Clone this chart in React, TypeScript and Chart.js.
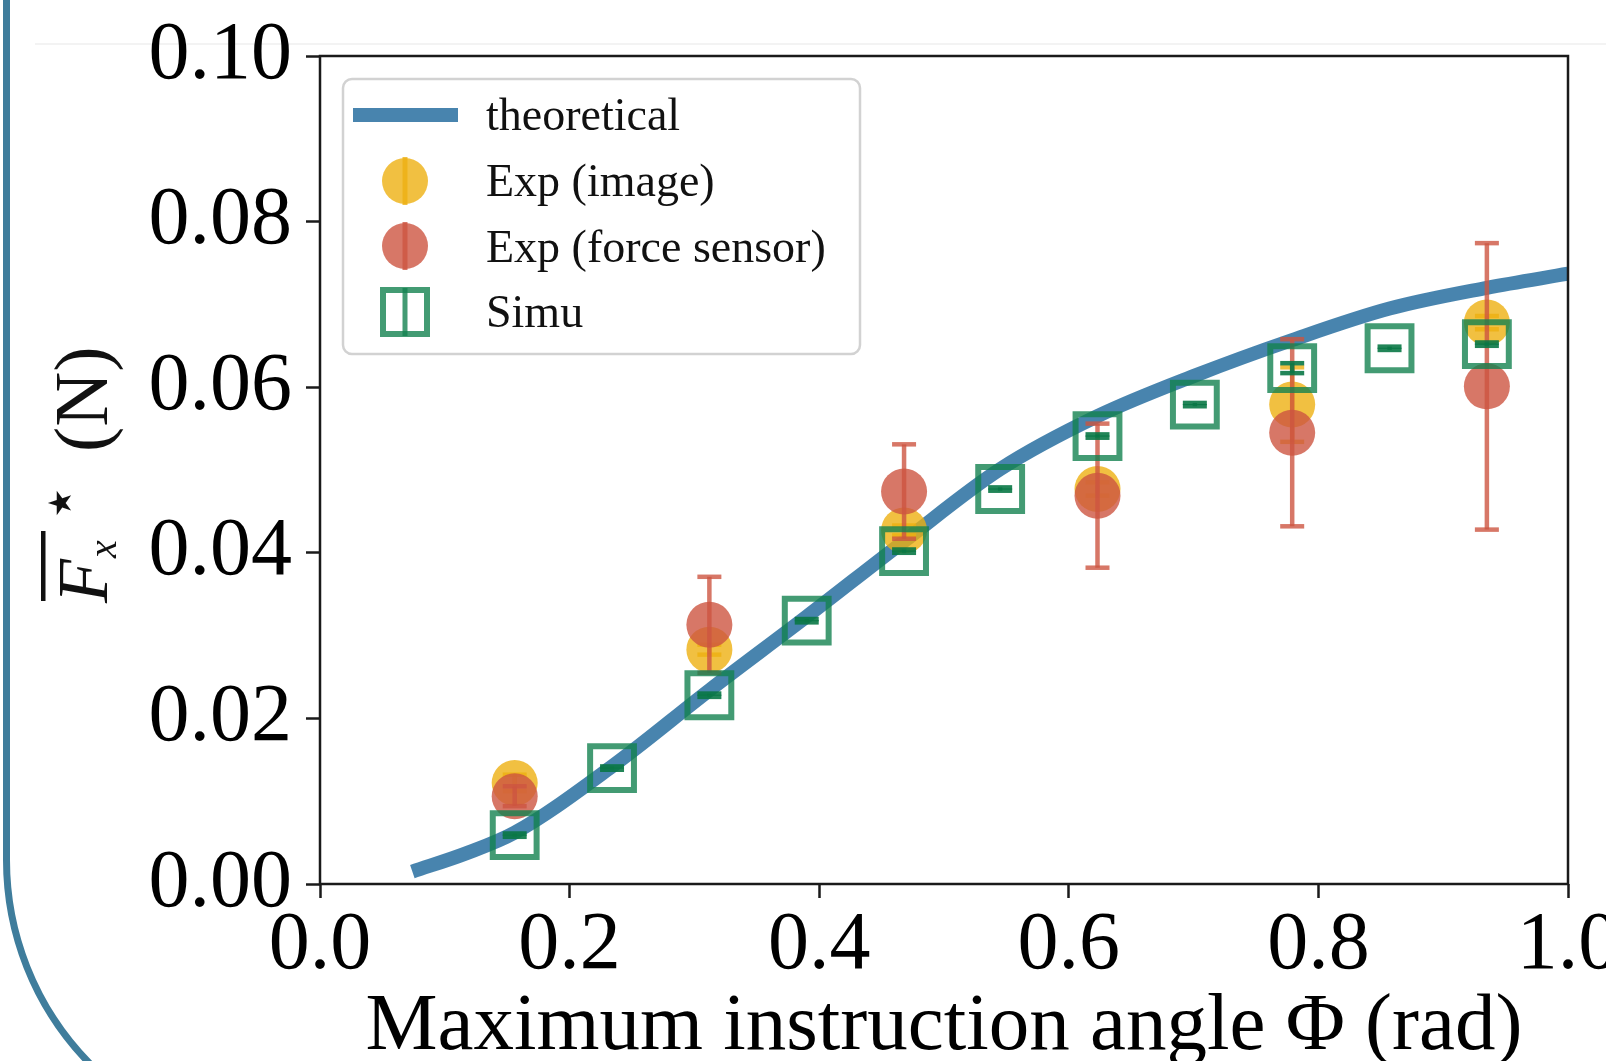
import React, { useEffect, useRef } from "react";
import { Chart, registerables } from "chart.js";

Chart.register(...registerables);

// ---------- data ----------
const THEORY_PHI = [0.074, 0.117, 0.156, 0.234, 0.312, 0.39, 0.468, 0.545, 0.623, 0.701, 0.779, 0.857, 0.935, 1.0];
const THEORY_F = [0.0015, 0.0037, 0.0062, 0.0142, 0.0234, 0.0323, 0.0414, 0.0501, 0.0565, 0.0614, 0.0657, 0.0695, 0.072, 0.0737];

const EXP_PHI = [0.156, 0.312, 0.468, 0.623, 0.779, 0.935];
const EXP_IMAGE_F = [0.0122, 0.0283, 0.0427, 0.0477, 0.0579, 0.0678];
const EXP_IMAGE_ERR = [0.001, 0.0006, 0.0006, 0.0008, 0.0045, 0.0008];
const EXP_FORCE_F = [0.0106, 0.0313, 0.0474, 0.0469, 0.0545, 0.0601];
const EXP_FORCE_ERR = [0.0012, 0.0058, 0.0057, 0.0087, 0.0113, 0.0173];

const SIMU_PHI = [0.156, 0.234, 0.312, 0.39, 0.468, 0.545, 0.623, 0.701, 0.779, 0.857, 0.935];
const SIMU_F = [0.0059, 0.014, 0.0228, 0.0318, 0.0402, 0.0477, 0.0541, 0.0579, 0.0623, 0.0647, 0.0652];
const SIMU_ERR = [0.0002, 0.0002, 0.0002, 0.0002, 0.0002, 0.0002, 0.0002, 0.0002, 0.0006, 0.0002, 0.0002];

const X_TICKS_STEP = 0.2;
const Y_TICKS_STEP = 0.02;
const LEGEND_LABELS = ["theoretical", "Exp (image)", "Exp (force sensor)", "Simu"];
const X_TITLE = "Maximum instruction angle \u03A6 (rad)";

// ---------- style ----------
const BLUE = "rgba(40,110,160,0.85)";
const YELLOW = "rgba(237,176,18,0.8)";
const RED = "rgba(205,85,65,0.8)";
const GREEN = "rgba(20,130,80,0.8)";
const SERIF = '"Liberation Serif", "Times New Roman", serif';

const W = 1700;
const H = 1100;
const AREA = { left: 320, top: 56, right: 1568, bottom: 884 };

const pts = (xs: number[], ys: number[]) => xs.map((x, i) => ({ x, y: ys[i] }));

const errorBarPlugin = {
  id: "errbars",
  beforeDatasetDraw(chart: any, args: any) {
    const ds = chart.data.datasets[args.index];
    if (!ds.errors) return;
    const { ctx } = chart;
    const x = chart.scales.x;
    const y = chart.scales.y;
    ctx.save();
    ctx.strokeStyle = ds.errColor;
    ctx.lineWidth = 4.5;
    ctx.lineCap = "butt";
    ds.data.forEach((p: any, i: number) => {
      const e = ds.errors[i];
      const px = x.getPixelForValue(p.x);
      const top = y.getPixelForValue(p.y + e);
      const bot = y.getPixelForValue(p.y - e);
      ctx.beginPath();
      ctx.moveTo(px, top);
      ctx.lineTo(px, bot);
      ctx.stroke();
      const cw = 12;
      ctx.beginPath();
      ctx.moveTo(px - cw, top);
      ctx.lineTo(px + cw, top);
      ctx.stroke();
      ctx.beginPath();
      ctx.moveTo(px - cw, bot);
      ctx.lineTo(px + cw, bot);
      ctx.stroke();
    });
    ctx.restore();
  },
};

const framePlugin = {
  id: "frameAndLegend",
  afterDatasetsDraw(chart: any) {
    const { ctx, chartArea: a } = chart;
    ctx.save();
    // spines
    ctx.strokeStyle = "#1a1a1a";
    ctx.lineWidth = 2.5;
    ctx.strokeRect(a.left, a.top, a.right - a.left, a.bottom - a.top);

    // legend box
    const bx = 343, by = 79, bw = 517, bh = 275;
    ctx.beginPath();
    ctx.roundRect(bx, by, bw, bh, 9);
    ctx.fillStyle = "rgba(255,255,255,0.8)";
    ctx.fill();
    ctx.strokeStyle = "#d2d2d2";
    ctx.lineWidth = 2.5;
    ctx.stroke();

    const hx = 405;
    const rows = [115, 181, 246, 312];
    // line handle
    ctx.strokeStyle = BLUE;
    ctx.lineWidth = 14;
    ctx.lineCap = "butt";
    ctx.beginPath();
    ctx.moveTo(353, rows[0]);
    ctx.lineTo(458, rows[0]);
    ctx.stroke();
    // circle handles
    [[YELLOW, rows[1]], [RED, rows[2]]].forEach(([c, yy]: any) => {
      ctx.strokeStyle = c;
      ctx.lineWidth = 5;
      ctx.beginPath();
      ctx.moveTo(hx, yy - 24);
      ctx.lineTo(hx, yy + 24);
      ctx.stroke();
      ctx.fillStyle = c;
      ctx.beginPath();
      ctx.arc(hx, yy, 23, 0, Math.PI * 2);
      ctx.fill();
    });
    // square handle
    ctx.strokeStyle = GREEN;
    ctx.lineWidth = 5;
    ctx.beginPath();
    ctx.moveTo(hx, rows[3] - 24);
    ctx.lineTo(hx, rows[3] + 24);
    ctx.stroke();
    ctx.lineWidth = 6;
    ctx.strokeRect(hx - 22, rows[3] - 22, 44, 44);

    // legend text
    ctx.fillStyle = "#111";
    ctx.font = `46px ${SERIF}`;
    ctx.textAlign = "left";
    ctx.textBaseline = "alphabetic";
    const baselines = [130, 196, 262, 327];
    LEGEND_LABELS.forEach((t, i) => ctx.fillText(t, 486, baselines[i]));
    ctx.restore();
  },
  afterDraw(chart: any) {
    const ctx = chart.ctx;
    ctx.save();
    ctx.translate(107, 604);
    ctx.rotate(-Math.PI / 2);
    ctx.fillStyle = "#111";
    ctx.textAlign = "left";
    ctx.textBaseline = "alphabetic";
    ctx.font = `italic 72px ${SERIF}`;
    ctx.fillText("F", 1, 0);
    ctx.font = `italic 40px ${SERIF}`;
    ctx.fillText("x", 46, 9);
    ctx.fillRect(3, -66, 70, 4.5);
    ctx.font = '32px "DejaVu Sans"';
    ctx.textAlign = "center";
    ctx.textBaseline = "middle";
    ctx.fillText("\u2605", 101, -44);
    ctx.textAlign = "left";
    ctx.textBaseline = "alphabetic";
    ctx.font = `76px ${SERIF}`;
    ctx.fillText("(N)", 152, 0);
    ctx.restore();
  },
};

export default function App() {
  const ref = useRef<HTMLCanvasElement | null>(null);

  useEffect(() => {
    if (!ref.current) return;
    const chart = new Chart(ref.current, {
      type: "scatter",
      data: {
        datasets: [
          {
            label: LEGEND_LABELS[0],
            data: pts(THEORY_PHI, THEORY_F),
            showLine: true,
            borderColor: BLUE,
            borderWidth: 14,
            pointRadius: 0,
            cubicInterpolationMode: "monotone",
            order: 4,
          } as any,
          {
            label: LEGEND_LABELS[1],
            data: pts(EXP_PHI, EXP_IMAGE_F),
            backgroundColor: YELLOW,
            borderWidth: 0,
            pointRadius: 23,
            errors: EXP_IMAGE_ERR,
            errColor: YELLOW,
            order: 3,
          } as any,
          {
            label: LEGEND_LABELS[2],
            data: pts(EXP_PHI, EXP_FORCE_F),
            backgroundColor: RED,
            borderWidth: 0,
            pointRadius: 23,
            errors: EXP_FORCE_ERR,
            errColor: RED,
            order: 2,
          } as any,
          {
            label: LEGEND_LABELS[3],
            data: pts(SIMU_PHI, SIMU_F),
            backgroundColor: "rgba(0,0,0,0)",
            borderColor: GREEN,
            borderWidth: 6,
            pointStyle: "rect",
            pointRadius: 31,
            errors: SIMU_ERR,
            errColor: "rgba(10,120,70,0.9)",
            order: 1,
          } as any,
        ],
      },
      options: {
        responsive: false,
        maintainAspectRatio: false,
        animation: false,
        devicePixelRatio: 1,
        events: [],
        layout: {
          padding: { left: 0, top: AREA.top, right: W - AREA.right, bottom: 0 },
        },
        plugins: {
          legend: { display: false },
          tooltip: { enabled: false },
          title: { display: false },
        },
        scales: {
          x: {
            type: "linear",
            min: 0,
            max: 1,
            border: { display: false },
            grid: {
              drawOnChartArea: false,
              drawTicks: true,
              tickLength: 14,
              tickWidth: 2.5,
              tickColor: "#1a1a1a",
            },
            ticks: {
              stepSize: X_TICKS_STEP,
              color: "#000",
              padding: 7,
              maxRotation: 0,
              font: { family: SERIF, size: 82, lineHeight: 1.0 },
              callback: (v: any) => Number(v).toFixed(1),
            },
            title: {
              display: true,
              text: X_TITLE,
              color: "#000",
              font: { family: SERIF, size: 81, lineHeight: 1.0 },
              padding: { top: 0, bottom: 32 },
            },
            afterFit: (s: any) => {
              s.height = H - AREA.bottom;
            },
          },
          y: {
            type: "linear",
            min: 0,
            max: 0.1,
            border: { display: false },
            grid: {
              drawOnChartArea: false,
              drawTicks: true,
              tickLength: 14,
              tickWidth: 2.5,
              tickColor: "#1a1a1a",
            },
            ticks: {
              stepSize: Y_TICKS_STEP,
              color: "#000",
              padding: 14,
              font: { family: SERIF, size: 82, lineHeight: 1.0 },
              callback: (v: any) => Number(v).toFixed(2),
            },
            afterFit: (s: any) => {
              s.width = AREA.left;
            },
          },
        },
      } as any,
      plugins: [errorBarPlugin, framePlugin],
    });
    return () => chart.destroy();
  }, []);

  return (
    <div
      style={{
        position: "fixed",
        left: 0,
        top: 0,
        width: 1606,
        height: 1061,
        overflow: "hidden",
        background: "#fff",
      }}
    >
      <div
        style={{
          position: "absolute",
          left: 35,
          top: 43,
          width: 1600,
          height: 2,
          background: "#f3f3f3",
        }}
      />
      <div
        style={{
          position: "absolute",
          left: 3,
          top: -200,
          width: 3000,
          height: 1354,
          boxSizing: "border-box",
          border: "7px solid #3f7d9c",
          borderBottomLeftRadius: 294,
        }}
      />
      <canvas
        ref={ref}
        width={W}
        height={H}
        style={{ position: "absolute", left: 0, top: 0, width: W, height: H, display: "block" }}
      />
    </div>
  );
}
